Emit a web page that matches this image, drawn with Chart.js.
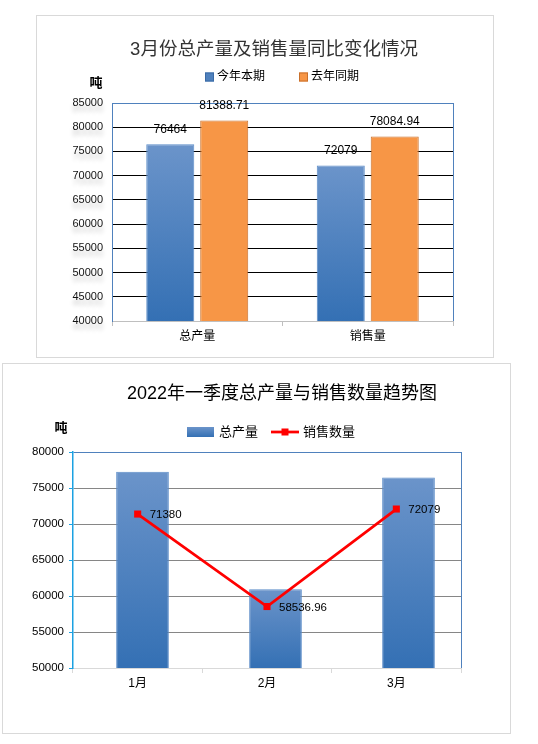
<!DOCTYPE html>
<html>
<head>
<meta charset="utf-8">
<script src="https://cdn.jsdelivr.net/npm/chart.js@4.4.1/dist/chart.umd.min.js"></script>
<style>
  body { margin: 0; background: #fff; width: 538px; height: 744px; position: relative; overflow: hidden; }
  .box { position: absolute; border: 1px solid #d9d9d9; background: #fff; }
  #box1 { left: 36px; top: 15px; width: 456px; height: 341px; }
  #box2 { left: 2px; top: 363px; width: 507px; height: 369px; }
  canvas { display: block; }
</style>
</head>
<body>
<div class="box" id="box1"><canvas id="c1" width="456" height="341" style="width:456px;height:341px"></canvas></div>
<div class="box" id="box2"><canvas id="c2" width="507" height="369" style="width:507px;height:369px"></canvas></div>
<script>
// chart 1: March, this year vs last year
const categories1 = ['总产量', '销售量'];
const seriesNames1 = ['今年本期', '去年同期'];
const thisYear = [76464, 72079];
const lastYear = [81388.71, 78084.94];
const yTicks1 = [40000, 45000, 50000, 55000, 60000, 65000, 70000, 75000, 80000, 85000];

// chart 2: first quarter trend
const months = ['1月', '2月', '3月'];
const seriesNames2 = ['总产量', '销售数量'];
const production = [77260, 60930, 76464];
const sales = [71380, 58536.96, 72079];
const yTicks2 = [50000, 55000, 60000, 65000, 70000, 75000, 80000];

const FONT = '"Liberation Sans", "Noto Sans CJK SC", sans-serif';
const BLUE_TOP = '#6b94ca';
const BLUE_BOTTOM = '#3470b4';
const FRAME = '#4f81bd';

function blueGradient(context) {
    const chart = context.chart;
    const area = chart.chartArea;
    const v = context.parsed ? context.parsed.y : null;
    if (!area || v == null) return '#4f81bd';
    const top = chart.scales.y.getPixelForValue(v);
    const g = chart.ctx.createLinearGradient(0, top, 0, area.bottom);
    g.addColorStop(0, BLUE_TOP);
    g.addColorStop(1, BLUE_BOTTOM);
    return g;
}

// right-hand edge of the plot frame
const rightFrame = {
    id: 'rightFrame',
    beforeDatasetsDraw(chart) {
        const { ctx, chartArea } = chart;
        ctx.save();
        ctx.strokeStyle = FRAME;
        ctx.lineWidth = 1;
        ctx.beginPath();
        ctx.moveTo(Math.round(chartArea.right) + 0.5, chartArea.top);
        ctx.lineTo(Math.round(chartArea.right) + 0.5, chartArea.bottom);
        ctx.stroke();
        ctx.restore();
    }
};

// soft grey glow under the y tick labels of the first chart
const labelShadow = {
    id: 'labelShadow',
    afterLayout(chart) {
        const scale = chart.scales.y;
        if (scale._shadowed) return;
        const orig = scale.drawLabels;
        scale.drawLabels = function (area) {
            const ctx = this.ctx;
            ctx.save();
            ctx.shadowColor = 'rgba(0,0,0,0.22)';
            ctx.shadowBlur = 4;
            ctx.shadowOffsetY = 6;
            orig.call(this, area);
            ctx.restore();
        };
        scale._shadowed = true;
    }
};

// in the source chart the columns use a slightly wider, shifted category axis
const columnAxis = {
    id: 'columnAxis',
    afterLayout(chart) {
        const s = chart.scales.xb;
        s.left = chart.chartArea.left + 3;
        s.right = chart.chartArea.right + 14;
        s.configure();
    }
};

function valueLabels(where, size) {
    return {
        id: 'valueLabels',
        afterDatasetsDraw(chart) {
            const ctx = chart.ctx;
            ctx.save();
            ctx.font = size + 'px ' + FONT;
            ctx.fillStyle = '#000';
            ctx.textBaseline = 'middle';
            chart.data.datasets.forEach((ds, i) => {
                if (!where[i]) return;
                chart.getDatasetMeta(i).data.forEach((el, j) => {
                    const text = String(ds.data[j]);
                    if (where[i] === 'top') {
                        ctx.textAlign = 'center';
                        ctx.fillText(text, el.x, el.y - 15);
                    } else {
                        ctx.textAlign = 'left';
                        ctx.fillText(text, el.x + 12, el.y + 1);
                    }
                });
            });
            ctx.restore();
        }
    };
}

function decor(cfg) {
    return {
        id: 'decor',
        afterDraw(chart) {
            const ctx = chart.ctx;
            ctx.save();
            ctx.textBaseline = 'middle';
            ctx.textAlign = 'center';
            ctx.fillStyle = cfg.titleColor;
            ctx.font = cfg.titleSize + 'px ' + FONT;
            ctx.fillText(cfg.title, cfg.titleX, cfg.titleY);
            ctx.fillStyle = '#000';
            ctx.font = 'bold 13px ' + FONT;
            ctx.fillText('吨', cfg.unitX, cfg.unitY);
            ctx.textAlign = 'left';
            ctx.font = cfg.legendFont;
            cfg.legend.forEach(item => {
                item.swatch(ctx, cfg.legendY);
                ctx.fillStyle = '#000';
                ctx.fillText(item.text, item.textX, cfg.legendY);
            });
            ctx.restore();
        }
    };
}

function squareSwatch(x, fill, stroke) {
    return (ctx, y) => {
        ctx.fillStyle = fill;
        ctx.fillRect(x, y - 4.5, 9, 9);
        ctx.strokeStyle = stroke;
        ctx.lineWidth = 1;
        ctx.strokeRect(x + 0.5, y - 4, 8, 8);
    };
}

new Chart(document.getElementById('c1'), {
    type: 'bar',
    data: {
        labels: categories1,
        datasets: [{
            label: seriesNames1[0],
            data: thisYear,
            backgroundColor: blueGradient,
            borderColor: '#5b8cc8',
            borderWidth: 1,
            categoryPercentage: 0.633,
            barPercentage: 0.89
        }, {
            label: seriesNames1[1],
            data: lastYear,
            backgroundColor: '#f79646',
            borderColor: '#c8702c',
            borderWidth: 1,
            categoryPercentage: 0.633,
            barPercentage: 0.89
        }]
    },
    options: {
        responsive: false,
        animation: false,
        layout: { padding: { top: 87, right: 40, left: 0, bottom: 0 } },
        plugins: { legend: { display: false }, title: { display: false }, tooltip: { enabled: false } },
        scales: {
            x: {
                afterFit: s => { s.height = 36; },
                grid: { drawOnChartArea: false, color: '#bfbfbf', tickLength: 5 },
                border: { color: '#bfbfbf' },
                ticks: { color: '#000', font: { family: FONT, size: 12 }, padding: 3 }
            },
            y: {
                min: yTicks1[0],
                max: yTicks1[yTicks1.length - 1],
                afterFit: s => { s.width = 75; },
                afterBuildTicks: s => { s.ticks = yTicks1.map(v => ({ value: v })); },
                ticks: { color: '#111', font: { family: FONT, size: 11 }, padding: 9, callback: v => String(v) },
                grid: {
                    drawTicks: false,
                    color: c => c.tick.value === yTicks1[yTicks1.length - 1] ? FRAME : (c.tick.value === yTicks1[0] ? 'rgba(0,0,0,0)' : '#000')
                },
                border: { color: FRAME }
            }
        }
    },
    plugins: [rightFrame, labelShadow, valueLabels(['top', 'top'], 12), decor({
        title: '3月份总产量及销售量同比变化情况',
        titleColor: '#333',
        titleSize: 18.5,
        titleX: 237, titleY: 34,
        unitX: 59, unitY: 67,
        legendFont: '12px ' + FONT,
        legendY: 61,
        legend: [
            { text: seriesNames1[0], textX: 180, swatch: squareSwatch(168, '#4f81bd', '#3a6aa5') },
            { text: seriesNames1[1], textX: 274, swatch: squareSwatch(262, '#f79646', '#c8702c') }
        ]
    })]
});

new Chart(document.getElementById('c2'), {
    type: 'bar',
    data: {
        labels: months,
        datasets: [{
            label: seriesNames2[0],
            data: production,
            xAxisID: 'xb',
            backgroundColor: blueGradient,
            borderColor: '#5b8cc8',
            borderWidth: 1,
            grouped: false,
            categoryPercentage: 0.396,
            barPercentage: 1,
            order: 2
        }, {
            type: 'line',
            label: seriesNames2[1],
            data: sales,
            xAxisID: 'x',
            borderColor: '#ff0000',
            borderWidth: 2.75,
            pointStyle: 'rect',
            pointRadius: 5,
            pointBackgroundColor: '#ff0000',
            pointBorderWidth: 0,
            tension: 0,
            order: 1
        }]
    },
    options: {
        responsive: false,
        animation: false,
        layout: { padding: { top: 88, right: 49, left: 0, bottom: 29 } },
        plugins: { legend: { display: false }, title: { display: false }, tooltip: { enabled: false } },
        scales: {
            x: {
                type: 'category',
                afterFit: s => { s.height = 36; },
                grid: { drawOnChartArea: false, color: '#d9d9d9', tickLength: 5 },
                border: { color: '#d9d9d9' },
                ticks: { color: '#000', font: { family: FONT, size: 12 }, padding: 3 }
            },
            xb: {
                type: 'category',
                display: false,
                offset: true
            },
            y: {
                min: yTicks2[0],
                max: yTicks2[yTicks2.length - 1],
                afterFit: s => { s.width = 70; },
                afterBuildTicks: s => { s.ticks = yTicks2.map(v => ({ value: v })); },
                ticks: { color: '#000', font: { family: FONT, size: 11.5 }, padding: 5, callback: v => String(v) },
                grid: {
                    tickLength: 4,
                    tickColor: '#1ba1e2',
                    color: c => c.tick.value === yTicks2[yTicks2.length - 1] ? FRAME : (c.tick.value === yTicks2[0] ? 'rgba(0,0,0,0)' : '#868686')
                },
                border: { color: '#1ba1e2', width: 1.5 }
            }
        }
    },
    plugins: [columnAxis, rightFrame, valueLabels([null, 'right'], 11.5), decor({
        title: '2022年一季度总产量与销售数量趋势图',
        titleColor: '#000',
        titleSize: 18,
        titleX: 279, titleY: 30,
        unitX: 58, unitY: 64,
        legendFont: '13px ' + FONT,
        legendY: 68,
        legend: [
            {
                text: seriesNames2[0], textX: 216,
                swatch: (ctx, y) => {
                    const g = ctx.createLinearGradient(0, y - 5, 0, y + 5);
                    g.addColorStop(0, BLUE_TOP);
                    g.addColorStop(1, BLUE_BOTTOM);
                    ctx.fillStyle = g;
                    ctx.fillRect(184, y - 5, 27, 10);
                }
            },
            {
                text: seriesNames2[1], textX: 300,
                swatch: (ctx, y) => {
                    ctx.strokeStyle = '#ff0000';
                    ctx.lineWidth = 2.75;
                    ctx.beginPath();
                    ctx.moveTo(268, y);
                    ctx.lineTo(296, y);
                    ctx.stroke();
                    ctx.fillStyle = '#ff0000';
                    ctx.fillRect(278.5, y - 3.5, 7, 7);
                }
            }
        ]
    })]
});
</script>
</body>
</html>
